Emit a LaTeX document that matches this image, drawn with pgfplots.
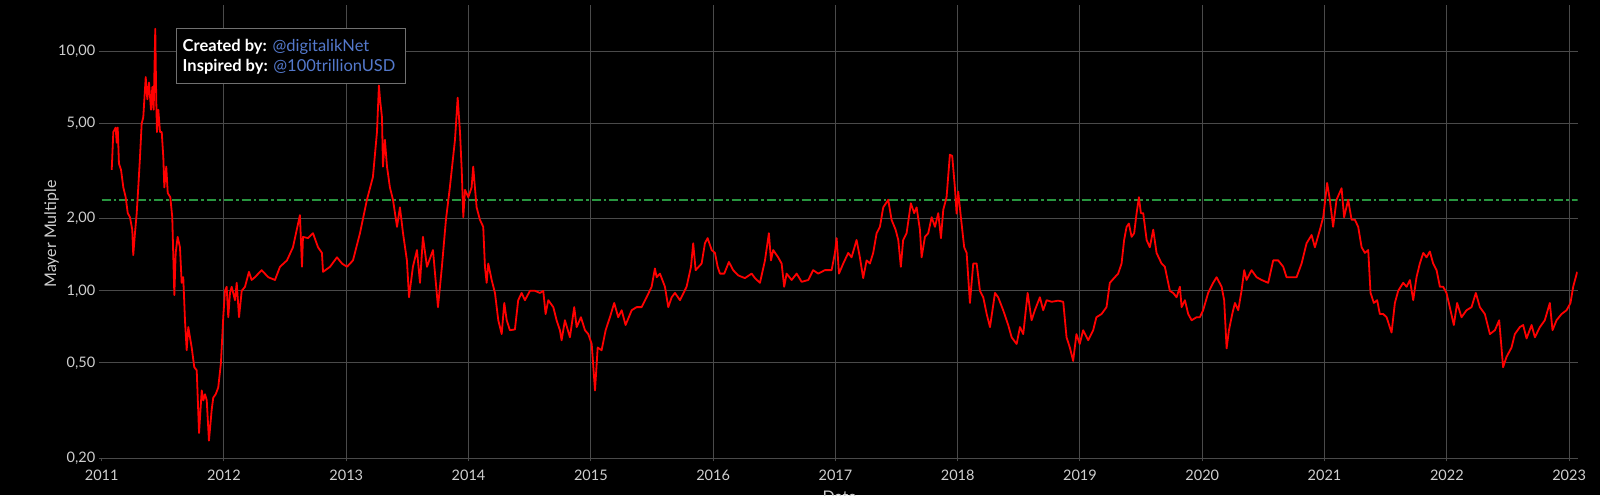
\documentclass[border=0pt]{standalone}
\usepackage{pgfplots}
\usepackage{pgfplotstable}
\pgfplotsset{compat=1.18}
\usepackage{fontspec}
\setmainfont{Lato}
\definecolor{gridc}{HTML}{4A4A4A}
\definecolor{tickc}{HTML}{CFCFCF}
\definecolor{greenl}{RGB}{40,150,64}
\definecolor{linkb}{HTML}{5479CC}
\definecolor{boxc}{HTML}{707070}

\pgfplotstableread{
x y
2011.082 3.2
2011.095 4.6
2011.114 4.8
2011.123 4.15
2011.131 4.8
2011.141 3.4
2011.158 3.2
2011.177 2.7
2011.196 2.46
2011.213 2.11
2011.231 2.03
2011.250 1.8
2011.258 1.41
2011.272 1.74
2011.286 2.1
2011.299 2.7
2011.313 3.6
2011.327 5.0
2011.340 5.3
2011.360 7.8
2011.373 6.3
2011.387 7.4
2011.403 5.7
2011.414 7.1
2011.425 5.7
2011.438 12.4
2011.446 6.3
2011.452 4.6
2011.463 5.7
2011.477 4.6
2011.491 4.6
2011.504 3.6
2011.512 2.7
2011.528 3.3
2011.540 2.56
2011.561 2.46
2011.577 2.03
2011.594 0.96
2011.605 1.44
2011.621 1.68
2011.640 1.52
2011.654 1.08
2011.667 1.14
2011.681 0.754
2011.695 0.565
2011.708 0.706
2011.736 0.58
2011.757 0.48
2011.777 0.466
2011.796 0.255
2011.818 0.384
2011.831 0.349
2011.845 0.37
2011.859 0.349
2011.877 0.237
2011.899 0.317
2011.912 0.358
2011.932 0.37
2011.953 0.395
2011.975 0.5
2011.994 0.776
2012.008 1.0
2012.022 1.04
2012.035 0.776
2012.049 0.98
2012.063 1.04
2012.090 0.914
2012.104 1.08
2012.123 0.776
2012.145 1.0
2012.172 1.04
2012.204 1.2
2012.226 1.11
2012.253 1.14
2012.308 1.22
2012.362 1.14
2012.417 1.11
2012.458 1.26
2012.515 1.34
2012.564 1.52
2012.621 2.07
2012.638 1.26
2012.646 1.68
2012.687 1.66
2012.728 1.74
2012.769 1.52
2012.801 1.44
2012.810 1.2
2012.867 1.26
2012.924 1.38
2012.965 1.3
2013.006 1.26
2013.055 1.34
2013.112 1.74
2013.169 2.4
2013.218 2.99
2013.251 4.6
2013.267 7.2
2013.276 6.3
2013.292 5.3
2013.300 3.3
2013.316 4.27
2013.333 3.3
2013.357 2.7
2013.382 2.4
2013.415 1.85
2013.439 2.23
2013.464 1.74
2013.496 1.34
2013.513 0.94
2013.545 1.26
2013.578 1.48
2013.603 1.08
2013.627 1.68
2013.660 1.26
2013.709 1.48
2013.750 0.855
2013.782 1.26
2013.815 1.98
2013.847 2.7
2013.889 4.27
2013.911 6.4
2013.930 4.6
2013.944 3.2
2013.957 2.03
2013.971 2.64
2013.998 2.46
2014.025 2.7
2014.038 3.3
2014.052 2.7
2014.066 2.23
2014.093 1.98
2014.120 1.85
2014.134 1.26
2014.148 1.08
2014.161 1.3
2014.189 1.11
2014.216 0.98
2014.243 0.754
2014.271 0.66
2014.292 0.89
2014.312 0.754
2014.338 0.685
2014.379 0.69
2014.406 0.914
2014.434 0.98
2014.461 0.914
2014.502 1.0
2014.543 1.0
2014.584 0.98
2014.611 1.0
2014.630 0.8
2014.652 0.914
2014.693 0.855
2014.720 0.754
2014.747 0.685
2014.761 0.622
2014.788 0.754
2014.829 0.64
2014.864 0.855
2014.884 0.706
2014.919 0.776
2014.952 0.685
2014.979 0.66
2015.007 0.6
2015.034 0.384
2015.056 0.58
2015.088 0.565
2015.121 0.685
2015.156 0.776
2015.191 0.89
2015.224 0.776
2015.252 0.83
2015.284 0.72
2015.334 0.83
2015.374 0.855
2015.415 0.855
2015.456 0.94
2015.497 1.04
2015.524 1.24
2015.538 1.14
2015.565 1.18
2015.606 1.04
2015.633 0.855
2015.661 0.94
2015.688 0.98
2015.729 0.914
2015.783 1.04
2015.819 1.26
2015.837 1.58
2015.857 1.22
2015.906 1.3
2015.933 1.58
2015.955 1.66
2015.988 1.48
2016.015 1.44
2016.037 1.26
2016.056 1.18
2016.091 1.18
2016.129 1.32
2016.164 1.22
2016.205 1.16
2016.260 1.13
2016.315 1.18
2016.342 1.13
2016.383 1.08
2016.424 1.34
2016.456 1.74
2016.473 1.34
2016.491 1.48
2016.532 1.38
2016.560 1.3
2016.581 1.04
2016.601 1.18
2016.642 1.11
2016.683 1.18
2016.724 1.09
2016.778 1.11
2016.818 1.22
2016.859 1.18
2016.914 1.22
2016.969 1.22
2016.996 1.44
2017.010 1.66
2017.029 1.18
2017.064 1.3
2017.105 1.44
2017.132 1.38
2017.173 1.63
2017.200 1.38
2017.227 1.13
2017.255 1.34
2017.282 1.3
2017.309 1.44
2017.337 1.74
2017.364 1.85
2017.391 2.23
2017.432 2.4
2017.459 1.98
2017.492 1.8
2017.514 1.63
2017.535 1.26
2017.554 1.63
2017.582 1.74
2017.617 2.32
2017.644 2.11
2017.664 2.23
2017.691 1.8
2017.705 1.38
2017.732 1.68
2017.759 1.74
2017.787 2.03
2017.814 1.85
2017.841 2.11
2017.863 1.66
2017.882 2.18
2017.909 2.46
2017.936 3.7
2017.955 3.66
2017.977 2.7
2017.991 2.1
2018.004 2.6
2018.026 2.03
2018.053 1.52
2018.073 1.44
2018.100 0.89
2018.127 1.3
2018.155 1.3
2018.182 1.0
2018.209 0.94
2018.237 0.8
2018.264 0.706
2018.305 0.98
2018.331 0.94
2018.372 0.83
2018.413 0.72
2018.441 0.64
2018.482 0.6
2018.509 0.706
2018.536 0.66
2018.572 0.98
2018.604 0.754
2018.631 0.83
2018.672 0.94
2018.699 0.83
2018.727 0.914
2018.768 0.9
2018.822 0.91
2018.863 0.9
2018.890 0.64
2018.917 0.58
2018.944 0.51
2018.971 0.66
2018.998 0.6
2019.026 0.685
2019.067 0.622
2019.108 0.685
2019.134 0.776
2019.176 0.8
2019.217 0.855
2019.244 1.08
2019.285 1.14
2019.312 1.18
2019.340 1.3
2019.361 1.63
2019.381 1.85
2019.400 1.91
2019.422 1.68
2019.443 1.74
2019.463 2.11
2019.482 2.46
2019.498 2.11
2019.517 2.11
2019.545 1.63
2019.571 1.52
2019.599 1.8
2019.626 1.44
2019.667 1.3
2019.694 1.26
2019.735 1.0
2019.762 0.98
2019.790 0.94
2019.817 1.04
2019.831 0.855
2019.858 0.914
2019.885 0.8
2019.913 0.754
2019.953 0.776
2019.980 0.776
2020.007 0.83
2020.048 0.98
2020.089 1.08
2020.117 1.14
2020.158 1.04
2020.179 0.914
2020.199 0.575
2020.218 0.685
2020.245 0.8
2020.267 0.89
2020.294 0.83
2020.321 1.0
2020.343 1.22
2020.362 1.11
2020.403 1.22
2020.444 1.14
2020.485 1.11
2020.539 1.08
2020.580 1.34
2020.621 1.34
2020.662 1.26
2020.689 1.14
2020.730 1.14
2020.771 1.14
2020.812 1.3
2020.853 1.58
2020.894 1.71
2020.921 1.52
2020.962 1.8
2020.989 2.03
2021.021 2.82
2021.043 2.4
2021.070 1.85
2021.098 2.4
2021.139 2.68
2021.160 2.03
2021.193 2.4
2021.221 1.98
2021.248 1.98
2021.275 1.85
2021.303 1.52
2021.330 1.44
2021.357 1.48
2021.376 0.98
2021.403 0.89
2021.430 0.914
2021.452 0.8
2021.480 0.8
2021.507 0.776
2021.548 0.67
2021.575 0.89
2021.602 1.0
2021.643 1.08
2021.671 1.04
2021.698 1.11
2021.725 0.914
2021.752 1.14
2021.779 1.3
2021.807 1.44
2021.834 1.38
2021.861 1.46
2021.888 1.3
2021.916 1.22
2021.943 1.04
2021.970 1.04
2021.997 0.98
2022.024 0.855
2022.057 0.72
2022.084 0.89
2022.120 0.776
2022.161 0.83
2022.202 0.855
2022.237 0.98
2022.270 0.855
2022.311 0.8
2022.352 0.66
2022.393 0.685
2022.428 0.754
2022.460 0.48
2022.488 0.53
2022.529 0.58
2022.556 0.66
2022.597 0.706
2022.624 0.72
2022.652 0.633
2022.693 0.72
2022.720 0.64
2022.761 0.706
2022.801 0.754
2022.842 0.89
2022.864 0.685
2022.897 0.754
2022.938 0.8
2022.979 0.83
2023.011 0.89
2023.033 1.04
2023.066 1.2
}\mayer

\begin{document}
\begin{tikzpicture}[x=1pt,y=1pt]
\fill[black] (0,0) rectangle (1600,495);
\begin{axis}[
  at={(101.7pt,36.7pt)}, anchor=south west,
  scale only axis, width=1476pt, height=453.3pt,
  ymode=log,
  xmin=2011, xmax=2023.07,
  ymin=0.2, ymax=15.6,
  axis line style={draw=none},
  xtick pos=bottom, ytick pos=left,
  xtick={2012,2013,2014,2015,2016,2017,2018,2019,2020,2021,2022,2023},
  xticklabels={2012,2013,2014,2015,2016,2017,2018,2019,2020,2021,2022,2023},
  extra x ticks={2011},
  extra x tick labels={2011},
  extra x tick style={grid=none, xtick pos=bottom},
  ytick={0.2,0.5,1,2,5,10},
  yticklabels={{0,20},{0,50},{1,00},{2,00},{5,00},{10,00}},
  minor tick num=0,
  grid=major,
  major grid style={gridc, line width=1pt},
  tick align=outside,
  major tick length=3pt,
  tick style={gridc, line width=1pt},
  tick label style={font=\fontsize{14.5}{16}\selectfont, text=tickc},
  xticklabel style={yshift=-5pt},
  xlabel={Date},
  ylabel={Mayer Multiple},
  xlabel style={at={(axis description cs:0.5,0)}, anchor=north, yshift=-33pt, inner sep=0pt, font=\fontsize{16}{18}\selectfont, text=tickc},
  ylabel style={at={(axis description cs:-0.0339,0.495)}, anchor=center, font=\fontsize{16}{18}\selectfont, text=tickc},
]
\addplot[color=greenl, solid, line width=1.6pt, dash pattern=on 9pt off 3pt on 2.5pt off 3pt] coordinates {(2011,2.4) (2023.07,2.4)};
\addplot[draw=red, line width=1.8pt, line join=round] table[x=x, y=y] {\mayer};
\end{axis}
\draw[boxc, line width=1pt, fill=black] (176.7,466) rectangle (405.7,411);
\node[anchor=base west, inner sep=0pt, font=\fontsize{16.5}{18}\selectfont, text=white] at (182.5,443.3) {\textbf{Created by:} \textcolor{linkb}{@digitalikNet}};
\node[anchor=base west, inner sep=0pt, font=\fontsize{16.5}{18}\selectfont, text=white] at (182.5,423.3) {\textbf{Inspired by:} \textcolor{linkb}{@100trillionUSD}};
\pgfresetboundingbox
\useasboundingbox (0,0) rectangle (1600,495);
\end{tikzpicture}
\end{document}
